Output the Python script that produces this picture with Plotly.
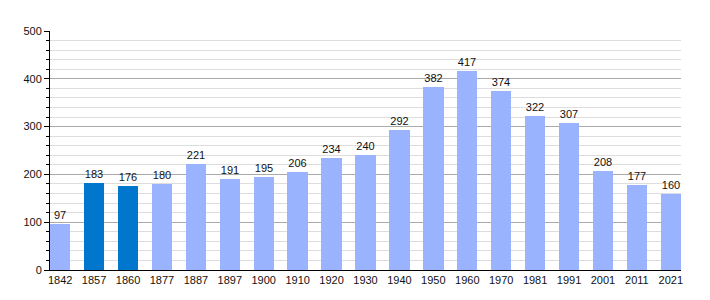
import plotly.graph_objects as go

years = ["1842","1857","1860","1877","1887","1897","1900","1910","1920","1930","1940","1950","1960","1970","1981","1991","2001","2011","2021"]
population = [97,183,176,180,221,191,195,206,234,240,292,382,417,374,322,307,208,177,160]
highlight = ["1857","1860"]

colors = ["#0077CC" if y in highlight else "#99B3FF" for y in years]

fig = go.Figure(go.Bar(
    x=list(range(len(years))), y=population, marker_color=colors, marker_line_width=0,
    width=0.6, text=[str(v) for v in population], textposition="outside",
    textfont=dict(family="Liberation Sans, Arial, sans-serif", size=11, color="#111"),
    cliponaxis=False,
))
fig.update_layout(
    width=710, height=300, margin=dict(l=50, r=29, t=31, b=30),
    plot_bgcolor="white", paper_bgcolor="white", showlegend=False,
    font=dict(family="Liberation Sans, Arial, sans-serif", size=11, color="#111"),
    bargap=0,
)
fig.update_xaxes(
    tickmode="array", tickvals=list(range(len(years))), ticktext=years,
    range=[-0.3, 18.3], showline=True, linecolor="black", linewidth=1,
    ticks="", showgrid=False, zeroline=False, fixedrange=True,
)
fig.update_yaxes(
    range=[0, 500], dtick=100, showline=True, linecolor="black", linewidth=1,
    ticks="outside", ticklen=5, tickcolor="black", showgrid=True, gridcolor="#AAAAAA",
    zeroline=False,
    minor=dict(dtick=20, showgrid=True, gridcolor="#DDDDDD", ticks="outside", ticklen=3, tickcolor="black"),
)
fig.write_html("out.html")
